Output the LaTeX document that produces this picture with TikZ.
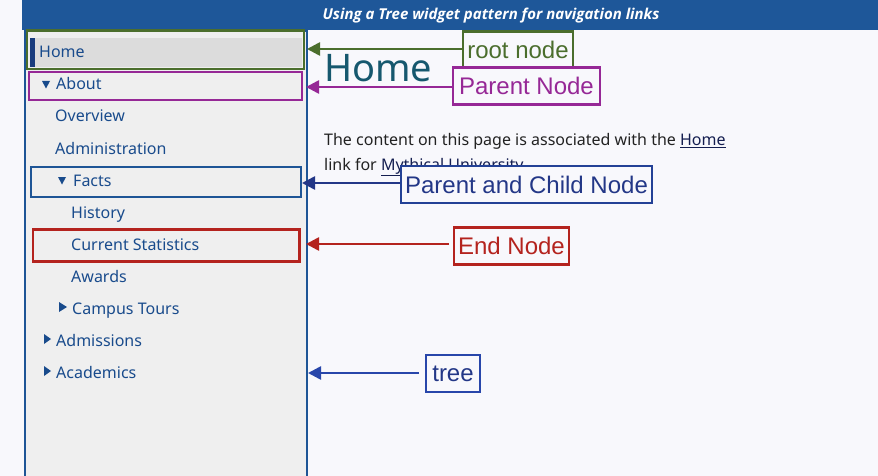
\documentclass[tikz,border=0pt]{standalone}
\usepackage{fontspec}
\setmainfont{Noto Sans}
\newfontfamily\lblfont{Liberation Sans}
\newfontfamily\titlefont{Open Sans}
\usetikzlibrary{arrows.meta}
\definecolor{pagebg}{RGB}{248,248,252}
\definecolor{panelbg}{RGB}{239,239,239}
\definecolor{homebg}{RGB}{220,220,220}
\definecolor{hdr}{RGB}{30,87,153}
\definecolor{treeline}{RGB}{30,85,150}
\definecolor{treetext}{RGB}{25,75,140}
\definecolor{homebar}{RGB}{25,60,125}
\definecolor{teal}{RGB}{22,88,110}
\definecolor{paratext}{RGB}{34,34,34}
\definecolor{linktext}{RGB}{20,30,80}
\definecolor{lgreen}{RGB}{75,110,45}
\definecolor{lpurple}{RGB}{150,40,150}
\definecolor{lnavy}{RGB}{35,65,150}
\definecolor{lnavytext}{RGB}{35,55,135}
\definecolor{lred}{RGB}{180,35,30}
\definecolor{lblue}{RGB}{40,70,170}
\tikzset{
  item/.style={anchor=base west, inner sep=0pt, text=treetext, font=\fontsize{16}{19}\selectfont},
  para/.style={anchor=base west, inner sep=0pt, text=paratext, font=\fontsize{16}{19}\selectfont},
  lbl/.style={draw, line width=2.2pt, fill=pagebg, inner sep=0pt, minimum height=37pt, font=\lblfont\fontsize{24}{28}\selectfont},
  hlbox/.style={draw, line width=2.2pt},
  arr/.style={line width=2.6pt, -{Triangle[length=13pt,width=13pt]}},
  tri/.style={fill=treetext}
}
\begin{document}
\begin{tikzpicture}[x=1pt,y=-1pt]
\useasboundingbox (0,0) rectangle (878,476);
\fill[pagebg] (0,0) rectangle (878,476);
% header
\fill[hdr] (22,0) rectangle (878,30);
\node[anchor=base, inner sep=0pt, text=white, font=\titlefont\fontsize{15}{18}\selectfont\bfseries\itshape] (title) at (491,19.5) {Using a Tree widget pattern for navigation links};
% tree panel
\fill[panelbg] (25,31) rectangle (307,476);
\draw[treeline, line width=2pt] (25,478) -- (25,31) -- (307,31) -- (307,478);
% home row
\fill[homebg] (30,38) rectangle (302,67);
\fill[homebar] (30,38) rectangle (35,67);
% items
\node[item] (home) at (39,58) {Home};
\fill[tri] (42,81) -- (50,81) -- (46,88.5) -- cycle;
\node[item] (about) at (56,90) {About};
\node[item] (overview) at (55,122) {Overview};
\node[item] (admin) at (55,154) {Administration};
\fill[tri] (58,177) -- (66,177) -- (62,184.5) -- cycle;
\node[item] (facts) at (73,186) {Facts};
\node[item] (history) at (71,218) {History};
\node[item] (stats) at (71,250) {Current Statistics};
\node[item] (awards) at (71,282) {Awards};
\fill[tri] (59,302) -- (67,307) -- (59,312) -- cycle;
\node[item] (tours) at (72,314) {Campus Tours};
\fill[tri] (44,334) -- (51,339) -- (44,344) -- cycle;
\node[item] (admissions) at (56,346) {Admissions};
\fill[tri] (44,366) -- (51,371) -- (44,376) -- cycle;
\node[item] (academics) at (56,378) {Academics};
% highlight boxes
\draw[hlbox, lgreen] (27,30.5) rectangle (304,69);
\draw[hlbox, lpurple] (29,72) rectangle (302,100);
\draw[hlbox, treeline] (31,167) rectangle (301,197);
\draw[hlbox, lred] (33,229.5) rectangle (299.5,261.5);
% content
\node[anchor=base west, inner sep=0pt, text=teal, font=\fontsize{38}{44}\selectfont] (heading) at (324,82) {Home};
\node[para] (p1) at (324,146) {The content on this page is associated with the {\color{linktext}\underline{Home}}};
\node[para] (p2) at (324,170) {link for {\color{linktext}\underline{Mythical University}}.};
% labels
\node[lbl, draw=lgreen, text=lgreen, minimum width=110pt] (root) at (518,50) {root node};
\node[lbl, draw=lpurple, text=lpurple, minimum width=147pt] (pnode) at (526.5,86) {Parent Node};
\node[lbl, draw=lnavy, text=lnavytext, minimum width=251pt] (pcnode) at (526.5,184.5) {Parent and Child Node};
\node[lbl, draw=lred, text=lred, minimum width=115pt] (endnode) at (511.5,246) {End Node};
\node[lbl, draw=lblue, text=lnavytext, minimum width=54pt] (treelbl) at (453,373.5) {tree};
% arrow tip positions
\coordinate (tipA) at (307,49);
\coordinate (tipB) at (306,87);
\coordinate (tipC) at (302,183);
\coordinate (tipD) at (306,244);
\coordinate (tipE) at (308,373);
\coordinate (endD) at (449,244);
\coordinate (endE) at (419,373);
\draw[arr, lgreen] (root.west |- tipA) -- (tipA);
\draw[arr, lpurple] (pnode.west |- tipB) -- (tipB);
\draw[arr, lnavytext] (pcnode.west |- tipC) -- (tipC);
\draw[arr, lred] (endD) -- (tipD);
\draw[arr, lblue] (endE) -- (tipE);
\end{tikzpicture}
\end{document}
